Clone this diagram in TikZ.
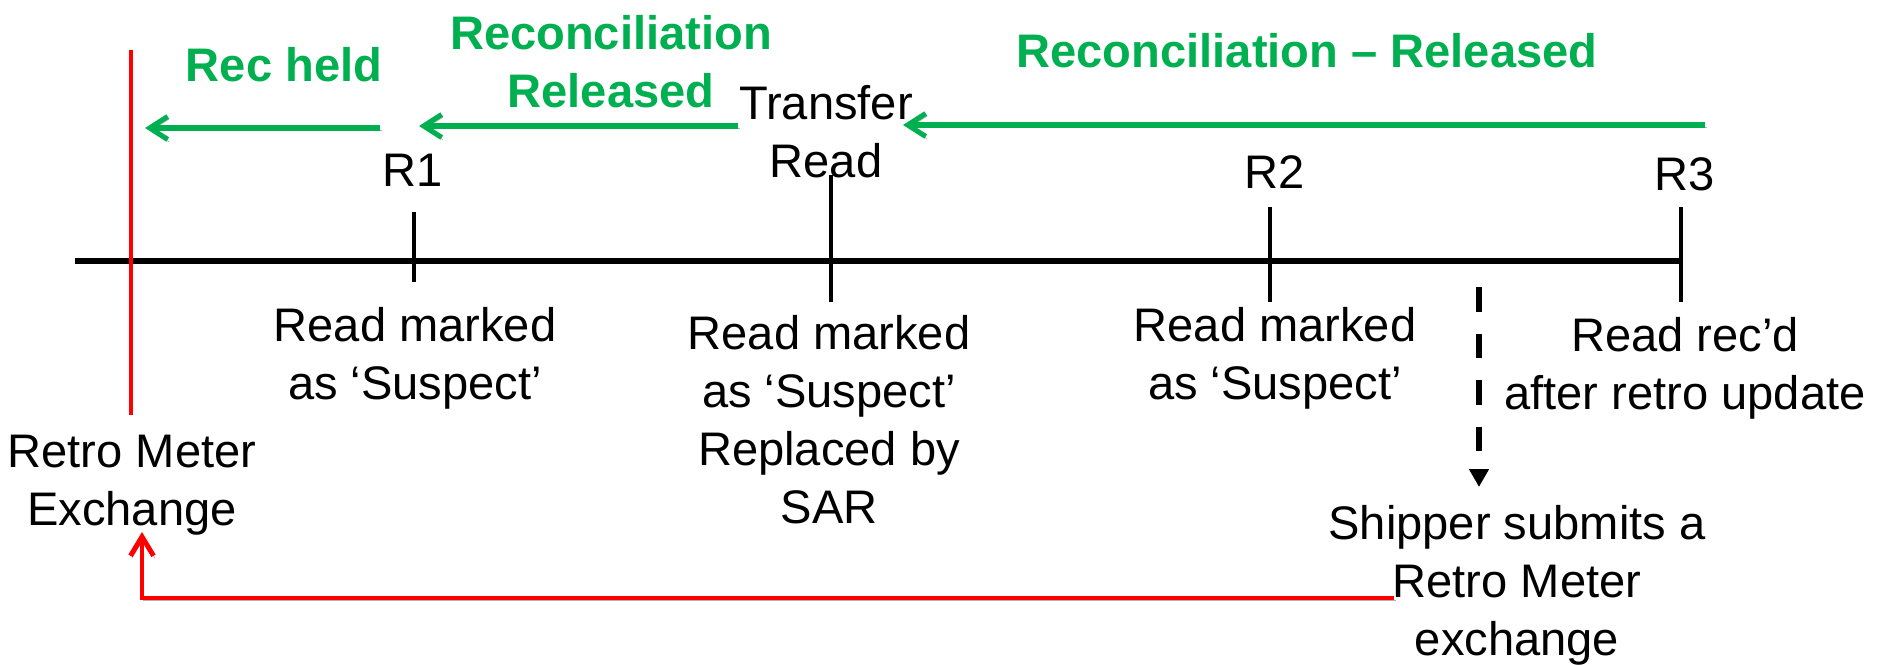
\documentclass[tikz,border=0pt]{standalone}
\usepackage{fontspec}
\setmainfont{Liberation Sans}
\usetikzlibrary{arrows.meta, positioning}
\definecolor{G}{RGB}{0,176,80}
\definecolor{R}{RGB}{255,0,0}
\tikzstyle{lbl} = [inner sep=0pt, anchor=north, align=center,
font=\fontsize{26.8}{33}\selectfont]
\tikzstyle{rec} = [lbl, text=G, font=\fontsize{26.8}{33}\selectfont\bfseries]
\tikzstyle{shade} = [preaction={draw=black!30, transform canvas={shift={(0.03cm,-0.05cm)}}}]
\tikzstyle{tick} = [line width=2.4pt]
\tikzstyle{recarrow} = [shade, G, line width=2.9pt,
-{Straight Barb[length=0.36cm, width=0.46cm]}]
\tikzstyle{retroarrow} = [shade, R, line width=2.8pt,
-{Straight Barb[length=0.38cm, width=0.46cm]}]

\begin{document}
\begin{tikzpicture}[x=0.02cm, y=-0.02cm]
    \useasboundingbox (0,0) rectangle (1884,664);

    % time line
    \coordinate (tstart) at (75,261);
    \coordinate (tend)   at (1681,261);
    \draw[shade, line width=2.9pt] (tstart) -- (tend);

    % read points on the line
    \coordinate (r1top) at (414,212);  \coordinate (r1bot) at (414,282);
    \coordinate (trtop) at (831,175);  \coordinate (trbot) at (831,302);
    \coordinate (r2top) at (1270,207); \coordinate (r2bot) at (1270,302);
    \coordinate (r3top) at (1681,207); \coordinate (r3bot) at (1681,302);
    \draw[tick] (r1top) -- (r1bot);
    \draw[tick] (trtop) -- (trbot);
    \draw[tick] (r2top) -- (r2bot);
    \draw[tick] (r3top) -- (r3bot);

    % meter exchange
    \coordinate (extop) at (131,50);
    \coordinate (exbot) at (131,415);
    \draw[R, line width=2.3pt] (extop) -- (exbot);

    \node[lbl] (r1)       at (413,154) {R1};
    \node[lbl] (transfer) at (826,85)  {Transfer\\Read};
    \node[lbl] (r2)       at (1275,155) {R2};
    \node[lbl] (r3)       at (1685,157) {R3};

    \node[lbl] (r1note)  at (415,307)  {Read marked\\as ‘Suspect’};
    \node[lbl] (trnote)  at (829,315)  {Read marked\\as ‘Suspect’\\Replaced by\\SAR};
    \node[lbl] (r2note)  at (1275,307) {Read marked\\as ‘Suspect’};
    \node[lbl] (r3note)  at (1685,317) {Read rec’d\\after retro update};
    \node[lbl] (retro)   at (132,435)  {Retro Meter\\Exchange};
    \node[lbl] (shipper) at (1517,505) {Shipper submits a\\Retro Meter\\exchange};

    \node[rec] (held)   at (284,47)  {Rec held};
    \node[rec] (recrel) at (611,15)  {Reconciliation\\Released};
    \node[rec] (recall) at (1307,33) {Reconciliation – Released};

    % reconciliation arrows
    \coordinate (a1s) at (380,128);  \coordinate (a1e) at (145,128);
    \coordinate (a2s) at (738,126);  \coordinate (a2e) at (419,126);
    \coordinate (a3s) at (1705,125); \coordinate (a3e) at (903,125);
    \draw[recarrow] (a1s) -- (a1e);
    \draw[recarrow] (a2s) -- (a2e);
    \draw[recarrow] (a3s) -- (a3e);

    % shipper request
    \coordinate (dashtop) at (1479,287);
    \coordinate (dashbot) at (1479,487);
    \draw[line width=3.3pt, dash pattern=on 14pt off 12.5pt,
      -{Triangle[length=0.36cm, width=0.38cm]}] (dashtop) -- (dashbot);

    \coordinate (backs) at (1394,598);
    \coordinate (backe) at (142,532);
    \draw[retroarrow] (backs) -| (backe);
\end{tikzpicture}
\end{document}
